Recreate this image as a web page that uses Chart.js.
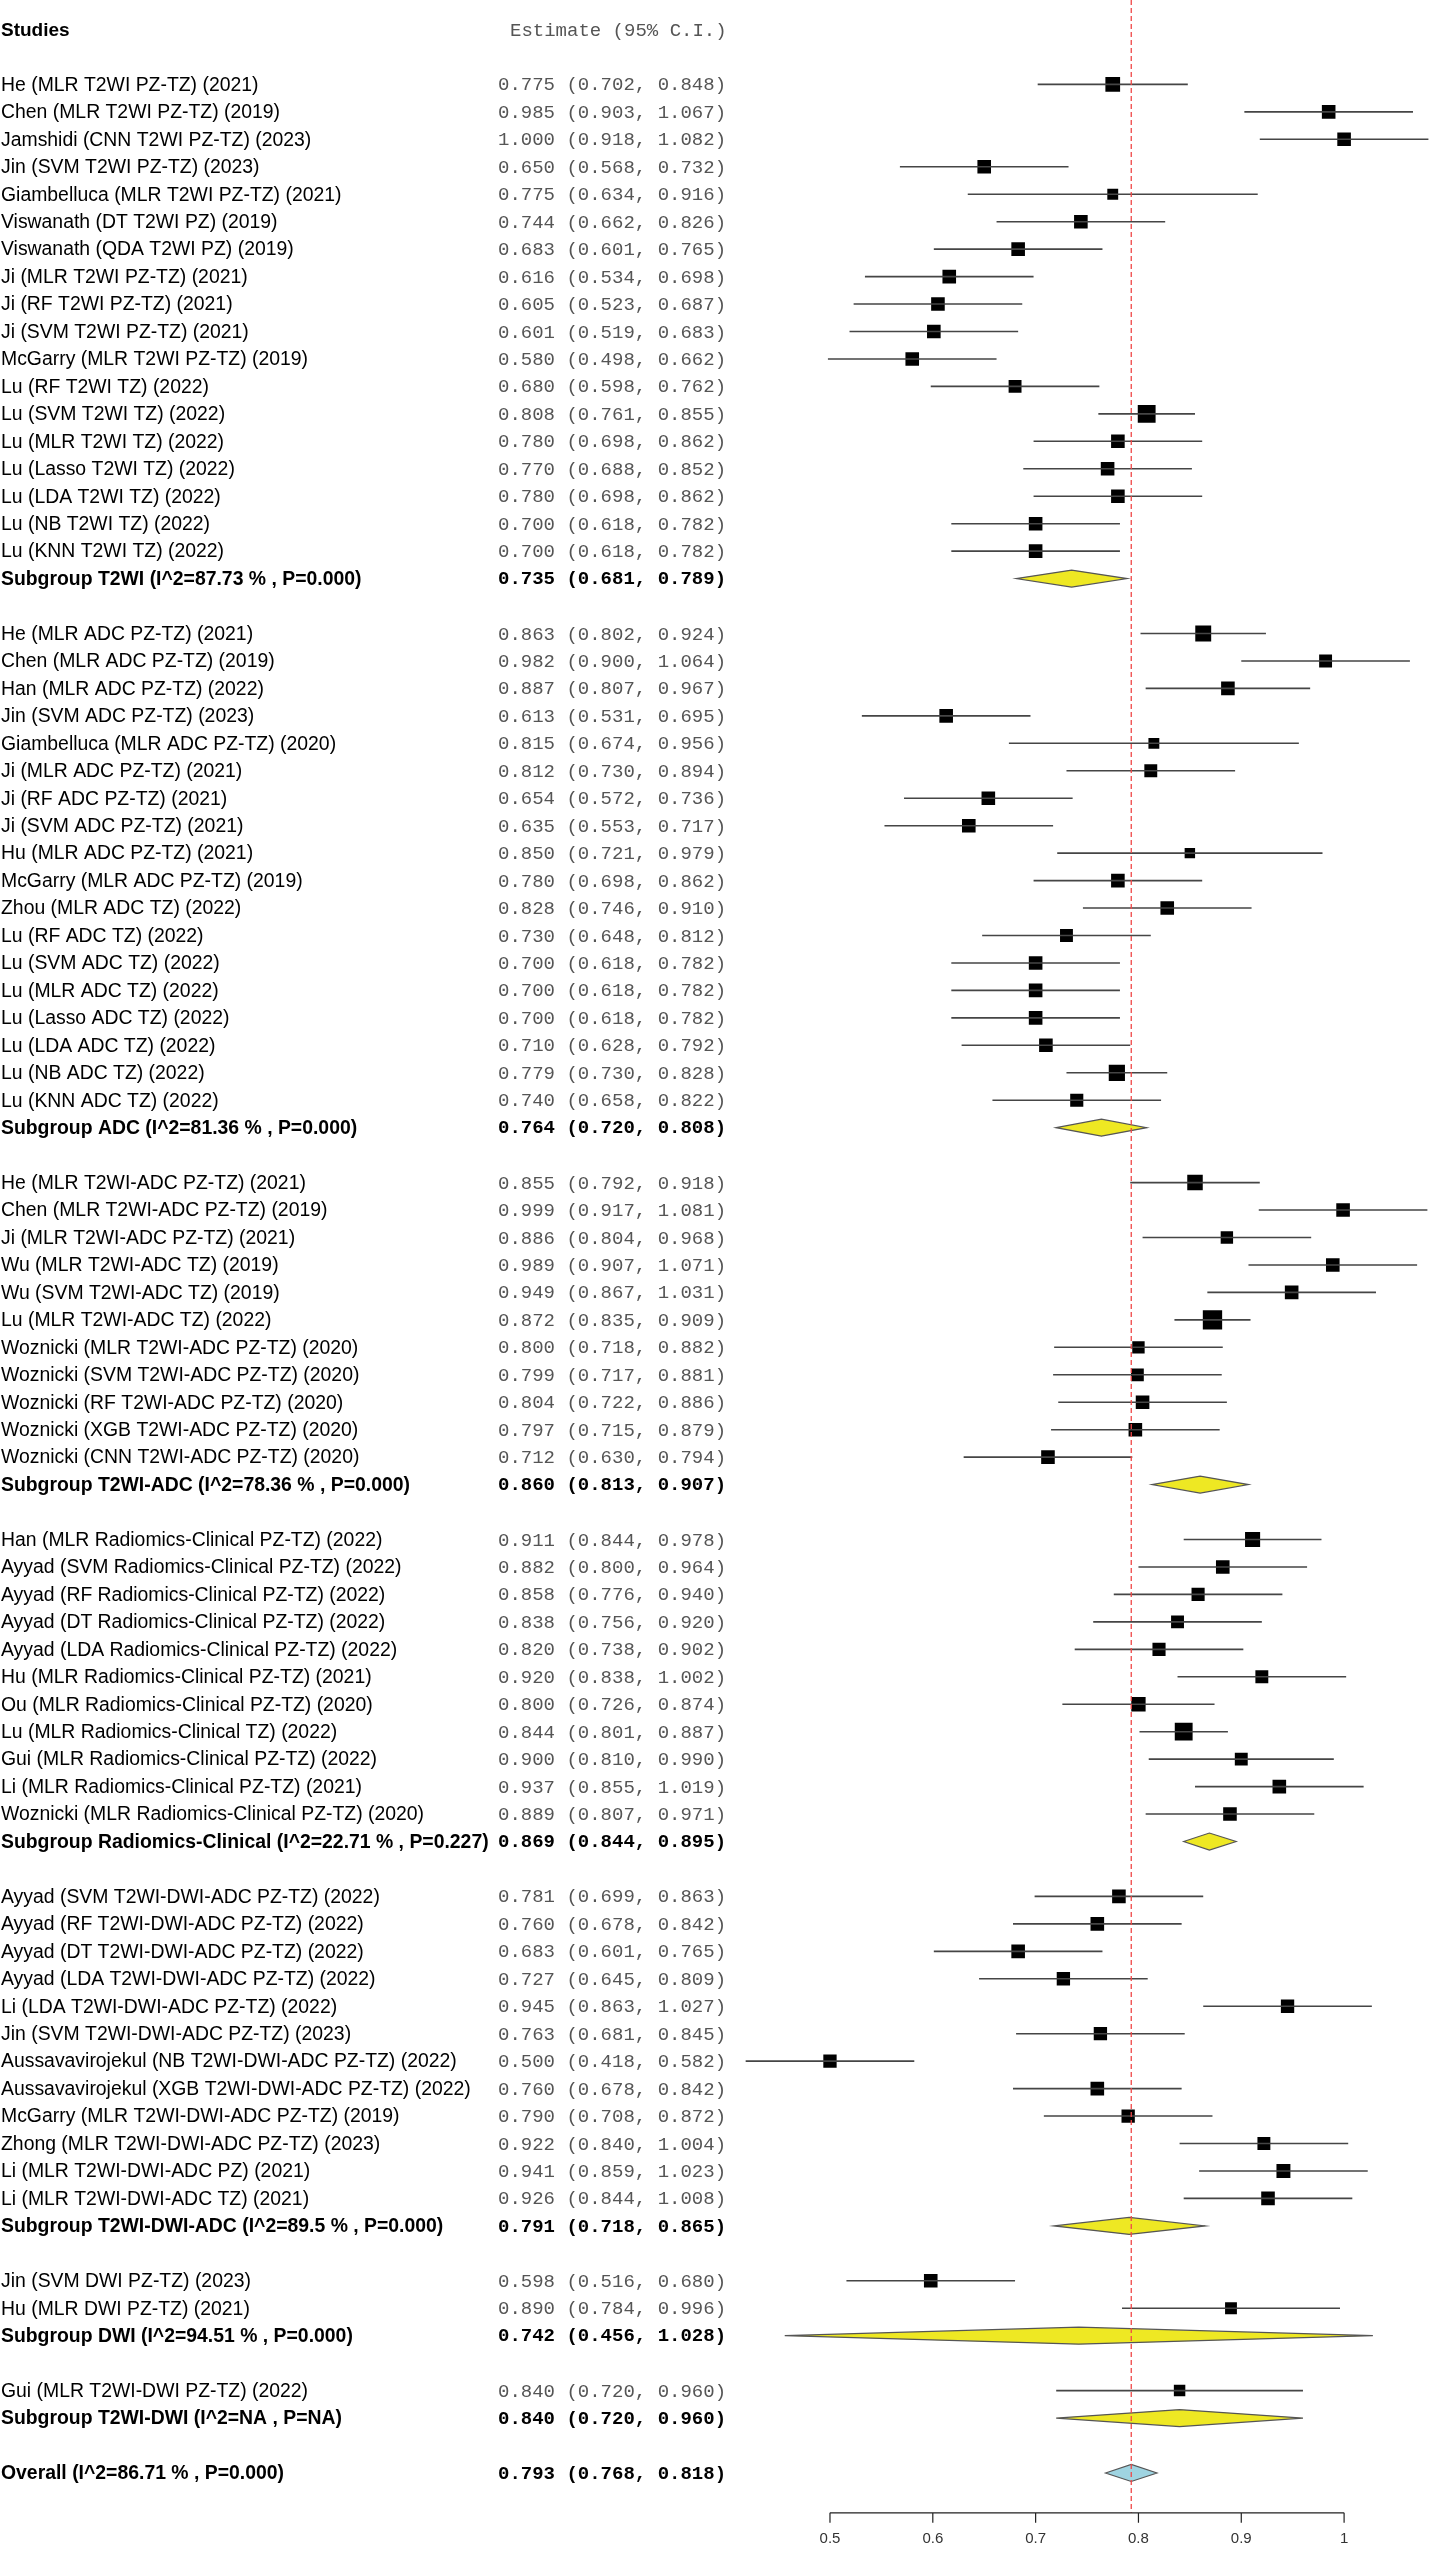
<!DOCTYPE html>
<html>
<head>
<meta charset="utf-8">
<title>Forest plot - subgrupos</title>
<script src="https://cdn.jsdelivr.net/npm/chart.js@4.4.1/dist/chart.umd.min.js"></script>
<style>
  html, body { margin: 0; padding: 0; background: #fff; }
  #wrap { width: 1450px; height: 2569px; }
</style>
</head>
<body>
<div id="wrap"><canvas id="forest" width="1450" height="2569"></canvas></div>
<script>
/* =========================
   DADOS
   ========================= */

/* Subgrupos (ordem do gráfico) */
const groupNames = ['T2WI', 'ADC', 'T2WI-ADC', 'Radiomics-Clinical', 'T2WI-DWI-ADC', 'DWI', 'T2WI-DWI'];
const groupI2 = ['87.73', '81.36', '78.36', '22.71', '89.5', '94.51', 'NA'];
const groupP = ['0.000', '0.000', '0.000', '0.227', '0.000', '0.000', 'NA'];
const groupEst = [0.735, 0.764, 0.860, 0.869, 0.791, 0.742, 0.840];
const groupLo = [0.681, 0.720, 0.813, 0.844, 0.718, 0.456, 0.720];
const groupHi = [0.789, 0.808, 0.907, 0.895, 0.865, 1.028, 0.960];

/* Estudos */
const studyNames = [
  'He (MLR T2WI PZ-TZ) (2021)', 'Chen (MLR T2WI PZ-TZ) (2019)', 'Jamshidi (CNN T2WI PZ-TZ) (2023)',
  'Jin (SVM T2WI PZ-TZ) (2023)', 'Giambelluca (MLR T2WI PZ-TZ) (2021)', 'Viswanath (DT T2WI PZ) (2019)',
  'Viswanath (QDA T2WI PZ) (2019)', 'Ji (MLR T2WI PZ-TZ) (2021)', 'Ji (RF T2WI PZ-TZ) (2021)',
  'Ji (SVM T2WI PZ-TZ) (2021)', 'McGarry (MLR T2WI PZ-TZ) (2019)', 'Lu (RF T2WI TZ) (2022)',
  'Lu (SVM T2WI TZ) (2022)', 'Lu (MLR T2WI TZ) (2022)', 'Lu (Lasso T2WI TZ) (2022)',
  'Lu (LDA T2WI TZ) (2022)', 'Lu (NB T2WI TZ) (2022)', 'Lu (KNN T2WI TZ) (2022)',

  'He (MLR ADC PZ-TZ) (2021)', 'Chen (MLR ADC PZ-TZ) (2019)', 'Han (MLR ADC PZ-TZ) (2022)',
  'Jin (SVM ADC PZ-TZ) (2023)', 'Giambelluca (MLR ADC PZ-TZ) (2020)', 'Ji (MLR ADC PZ-TZ) (2021)',
  'Ji (RF ADC PZ-TZ) (2021)', 'Ji (SVM ADC PZ-TZ) (2021)', 'Hu (MLR ADC PZ-TZ) (2021)',
  'McGarry (MLR ADC PZ-TZ) (2019)', 'Zhou (MLR ADC TZ) (2022)', 'Lu (RF ADC TZ) (2022)',
  'Lu (SVM ADC TZ) (2022)', 'Lu (MLR ADC TZ) (2022)', 'Lu (Lasso ADC TZ) (2022)',
  'Lu (LDA ADC TZ) (2022)', 'Lu (NB ADC TZ) (2022)', 'Lu (KNN ADC TZ) (2022)',

  'He (MLR T2WI-ADC PZ-TZ) (2021)', 'Chen (MLR T2WI-ADC PZ-TZ) (2019)', 'Ji (MLR T2WI-ADC PZ-TZ) (2021)',
  'Wu (MLR T2WI-ADC TZ) (2019)', 'Wu (SVM T2WI-ADC TZ) (2019)', 'Lu (MLR T2WI-ADC TZ) (2022)',
  'Woznicki (MLR T2WI-ADC PZ-TZ) (2020)', 'Woznicki (SVM T2WI-ADC PZ-TZ) (2020)',
  'Woznicki (RF T2WI-ADC PZ-TZ) (2020)', 'Woznicki (XGB T2WI-ADC PZ-TZ) (2020)',
  'Woznicki (CNN T2WI-ADC PZ-TZ) (2020)',

  'Han (MLR Radiomics-Clinical PZ-TZ) (2022)', 'Ayyad (SVM Radiomics-Clinical PZ-TZ) (2022)',
  'Ayyad (RF Radiomics-Clinical PZ-TZ) (2022)', 'Ayyad (DT Radiomics-Clinical PZ-TZ) (2022)',
  'Ayyad (LDA Radiomics-Clinical PZ-TZ) (2022)', 'Hu (MLR Radiomics-Clinical PZ-TZ) (2021)',
  'Ou (MLR Radiomics-Clinical PZ-TZ) (2020)', 'Lu (MLR Radiomics-Clinical TZ) (2022)',
  'Gui (MLR Radiomics-Clinical PZ-TZ) (2022)', 'Li (MLR Radiomics-Clinical PZ-TZ) (2021)',
  'Woznicki (MLR Radiomics-Clinical PZ-TZ) (2020)',

  'Ayyad (SVM T2WI-DWI-ADC PZ-TZ) (2022)', 'Ayyad (RF T2WI-DWI-ADC PZ-TZ) (2022)',
  'Ayyad (DT T2WI-DWI-ADC PZ-TZ) (2022)', 'Ayyad (LDA T2WI-DWI-ADC PZ-TZ) (2022)',
  'Li (LDA T2WI-DWI-ADC PZ-TZ) (2022)', 'Jin (SVM T2WI-DWI-ADC PZ-TZ) (2023)',
  'Aussavavirojekul (NB T2WI-DWI-ADC PZ-TZ) (2022)', 'Aussavavirojekul (XGB T2WI-DWI-ADC PZ-TZ) (2022)',
  'McGarry (MLR T2WI-DWI-ADC PZ-TZ) (2019)', 'Zhong (MLR T2WI-DWI-ADC PZ-TZ) (2023)',
  'Li (MLR T2WI-DWI-ADC PZ) (2021)', 'Li (MLR T2WI-DWI-ADC TZ) (2021)',

  'Jin (SVM DWI PZ-TZ) (2023)', 'Hu (MLR DWI PZ-TZ) (2021)',

  'Gui (MLR T2WI-DWI PZ-TZ) (2022)'
];
const studyGroup = [
  0,0,0,0,0,0,0,0,0,0,0,0,0,0,0,0,0,0,
  1,1,1,1,1,1,1,1,1,1,1,1,1,1,1,1,1,1,
  2,2,2,2,2,2,2,2,2,2,2,
  3,3,3,3,3,3,3,3,3,3,3,
  4,4,4,4,4,4,4,4,4,4,4,4,
  5,5,
  6
];
const studyEst = [
  0.775, 0.985, 1.000, 0.650, 0.775, 0.744, 0.683, 0.616, 0.605, 0.601, 0.580, 0.680, 0.808, 0.780, 0.770, 0.780, 0.700, 0.700,
  0.863, 0.982, 0.887, 0.613, 0.815, 0.812, 0.654, 0.635, 0.850, 0.780, 0.828, 0.730, 0.700, 0.700, 0.700, 0.710, 0.779, 0.740,
  0.855, 0.999, 0.886, 0.989, 0.949, 0.872, 0.800, 0.799, 0.804, 0.797, 0.712,
  0.911, 0.882, 0.858, 0.838, 0.820, 0.920, 0.800, 0.844, 0.900, 0.937, 0.889,
  0.781, 0.760, 0.683, 0.727, 0.945, 0.763, 0.500, 0.760, 0.790, 0.922, 0.941, 0.926,
  0.598, 0.890,
  0.840
];
const studyLo = [
  0.702, 0.903, 0.918, 0.568, 0.634, 0.662, 0.601, 0.534, 0.523, 0.519, 0.498, 0.598, 0.761, 0.698, 0.688, 0.698, 0.618, 0.618,
  0.802, 0.900, 0.807, 0.531, 0.674, 0.730, 0.572, 0.553, 0.721, 0.698, 0.746, 0.648, 0.618, 0.618, 0.618, 0.628, 0.730, 0.658,
  0.792, 0.917, 0.804, 0.907, 0.867, 0.835, 0.718, 0.717, 0.722, 0.715, 0.630,
  0.844, 0.800, 0.776, 0.756, 0.738, 0.838, 0.726, 0.801, 0.810, 0.855, 0.807,
  0.699, 0.678, 0.601, 0.645, 0.863, 0.681, 0.418, 0.678, 0.708, 0.840, 0.859, 0.844,
  0.516, 0.784,
  0.720
];
const studyHi = [
  0.848, 1.067, 1.082, 0.732, 0.916, 0.826, 0.765, 0.698, 0.687, 0.683, 0.662, 0.762, 0.855, 0.862, 0.852, 0.862, 0.782, 0.782,
  0.924, 1.064, 0.967, 0.695, 0.956, 0.894, 0.736, 0.717, 0.979, 0.862, 0.910, 0.812, 0.782, 0.782, 0.782, 0.792, 0.828, 0.822,
  0.918, 1.081, 0.968, 1.071, 1.031, 0.909, 0.882, 0.881, 0.886, 0.879, 0.794,
  0.978, 0.964, 0.940, 0.920, 0.902, 1.002, 0.874, 0.887, 0.990, 1.019, 0.971,
  0.863, 0.842, 0.765, 0.809, 1.027, 0.845, 0.582, 0.842, 0.872, 1.004, 1.023, 1.008,
  0.680, 0.996,
  0.960
];
/* Peso relativo de cada estudo (lido pelo tamanho do quadrado) */
const studyWeight = [
  1.17, 1.0, 1.0, 1.0, 0.64, 1.0, 1.0, 1.0, 1.0, 1.0, 1.0, 0.9, 1.72, 1.0, 1.0, 1.0, 1.0, 1.0,
  1.37, 0.9, 1.0, 1.0, 0.64, 0.9, 1.0, 1.0, 0.59, 1.0, 1.0, 0.9, 1.0, 1.0, 1.0, 1.0, 1.42, 0.93,
  1.30, 1.0, 0.83, 1.0, 1.0, 2.02, 0.83, 0.88, 1.0, 1.0, 1.0,
  1.23, 1.0, 0.93, 0.9, 0.93, 0.9, 1.11, 1.72, 0.9, 1.0, 1.0,
  1.0, 1.0, 1.0, 0.96, 0.96, 0.96, 0.96, 1.0, 0.96, 0.9, 1.05, 1.0,
  1.0, 0.76,
  0.71
];

/* Resultado global */
const overallEst = 0.793;
const overallLo = 0.768;
const overallHi = 0.818;
const overallI2 = '86.71';
const overallP = '0.000';

/* Eixo X */
const axisTicks = [0.5, 0.6, 0.7, 0.8, 0.9, 1.0];
const axisTickLabels = ['0.5', '0.6', '0.7', '0.8', '0.9', '1'];

/* =========================
   MONTAGEM DAS LINHAS
   ========================= */
const fmt = (e, l, h) => e.toFixed(3) + ' (' + l.toFixed(3) + ', ' + h.toFixed(3) + ')';

const rows = [];
let r = 0;
groupNames.forEach((g, gi) => {
  studyNames.forEach((name, i) => {
    if (studyGroup[i] !== gi) return;
    rows.push({ kind: 'study', label: name, text: fmt(studyEst[i], studyLo[i], studyHi[i]),
      est: studyEst[i], lo: studyLo[i], hi: studyHi[i], w: studyWeight[i], row: r });
    r++;
  });
  const i2 = groupI2[gi] === 'NA' ? 'NA' : groupI2[gi] + ' %';
  rows.push({ kind: 'sub', label: 'Subgroup ' + g + ' (I^2=' + i2 + ' , P=' + groupP[gi] + ')',
    text: fmt(groupEst[gi], groupLo[gi], groupHi[gi]),
    est: groupEst[gi], lo: groupLo[gi], hi: groupHi[gi], row: r });
  r += 2; // linha em branco entre subgrupos
});
rows.push({ kind: 'overall', label: 'Overall (I^2=' + overallI2 + ' % , P=' + overallP + ')',
  text: fmt(overallEst, overallLo, overallHi), est: overallEst, lo: overallLo, hi: overallHi, row: r });

const headerRow = -2;
const axisRow = r + 1.45;

const studyRows = rows.filter(d => d.kind === 'study');

/* CI: segmentos separados por pontos nulos */
const ciData = [];
studyRows.forEach(d => {
  ciData.push({ x: d.lo, y: d.row }, { x: d.hi, y: d.row }, { x: null, y: null });
});
const boxData = studyRows.map(d => ({ x: d.est, y: d.row }));
const boxRadius = studyRows.map(d => 13.6 * Math.sqrt(d.w) / 2 / Math.SQRT1_2);

/* =========================
   PLUGIN: textos, losangos, linha de referência e eixo
   ========================= */
const SANS = "'Liberation Sans', Arial, sans-serif";
const MONO = "'Liberation Mono', 'Courier New', monospace";

const forestDecor = {
  id: 'forestDecor',
  afterDatasetsDraw(chart) {
    const ctx = chart.ctx;
    const xs = chart.scales.x;
    const ys = chart.scales.y;
    ctx.save();

    // losangos dos subgrupos e global
    rows.filter(d => d.kind !== 'study').forEach(d => {
      const y = ys.getPixelForValue(d.row);
      const h = 8.5;
      ctx.beginPath();
      ctx.moveTo(xs.getPixelForValue(d.lo), y);
      ctx.lineTo(xs.getPixelForValue(d.est), y - h);
      ctx.lineTo(xs.getPixelForValue(d.hi), y);
      ctx.lineTo(xs.getPixelForValue(d.est), y + h);
      ctx.closePath();
      ctx.fillStyle = d.kind === 'overall' ? '#9fd4e1' : '#eee823';
      ctx.fill();
      ctx.strokeStyle = '#555';
      ctx.lineWidth = 1.2;
      ctx.stroke();
    });

    // linha tracejada no efeito global
    const axisY = ys.getPixelForValue(axisRow);
    const xRef = xs.getPixelForValue(overallEst);
    ctx.beginPath();
    ctx.setLineDash([5, 3]);
    ctx.strokeStyle = '#f04848';
    ctx.lineWidth = 1.3;
    ctx.moveTo(xRef, 0);
    ctx.lineTo(xRef, axisY);
    ctx.stroke();
    ctx.setLineDash([]);

    // eixo X
    ctx.strokeStyle = '#222';
    ctx.lineWidth = 1.2;
    ctx.beginPath();
    ctx.moveTo(xs.getPixelForValue(axisTicks[0]), axisY);
    ctx.lineTo(xs.getPixelForValue(axisTicks[axisTicks.length - 1]), axisY);
    axisTicks.forEach(t => {
      const x = xs.getPixelForValue(t);
      ctx.moveTo(x, axisY);
      ctx.lineTo(x, axisY + 10);
    });
    ctx.stroke();
    ctx.fillStyle = '#333';
    ctx.font = '15px ' + SANS;
    ctx.textAlign = 'center';
    ctx.textBaseline = 'middle';
    axisTicks.forEach((t, i) => ctx.fillText(axisTickLabels[i], xs.getPixelForValue(t), axisY + 26));

    // cabeçalho
    const hy = ys.getPixelForValue(headerRow) + 1;
    ctx.textAlign = 'left';
    ctx.fillStyle = '#000';
    ctx.font = 'bold 19px ' + SANS;
    ctx.fillText('Studies', 1, hy);
    ctx.fillStyle = '#555';
    ctx.font = '19px ' + MONO;
    ctx.fillText('Estimate (95% C.I.)', 510, hy);

    // colunas de texto
    rows.forEach(d => {
      const y = ys.getPixelForValue(d.row) + 1;
      const bold = d.kind !== 'study';
      ctx.fillStyle = '#000';
      ctx.font = (bold ? 'bold ' : '') + '19.4px ' + SANS;
      ctx.fillText(d.label, 1, y);
      ctx.fillStyle = bold ? '#000' : '#555';
      ctx.font = (bold ? 'bold ' : '') + '19px ' + MONO;
      ctx.fillText(d.text, 498, y);
    });

    ctx.restore();
  }
};

/* =========================
   GRÁFICO
   ========================= */
const ctx = document.getElementById('forest').getContext('2d');

new Chart(ctx, {
  type: 'scatter',
  data: {
    datasets: [
      {
        label: 'CI',
        data: ciData,
        showLine: true,
        spanGaps: false,
        borderColor: '#454545',
        borderWidth: 1.6,
        pointRadius: 0,
        pointHoverRadius: 0
      },
      {
        label: 'Estimate',
        data: boxData,
        pointStyle: 'rect',
        pointRadius: boxRadius,
        pointHoverRadius: boxRadius,
        backgroundColor: '#000',
        borderColor: '#000',
        borderWidth: 0
      }
    ]
  },
  options: {
    responsive: false,
    animation: false,
    events: [],
    layout: { padding: 0 },
    scales: {
      // 0.5 -> x=832px, 1.0 -> x=1356px
      x: { type: 'linear', min: -0.29389, max: 1.0897, display: false },
      // linha 0 -> y=71.5px, 27.75px por linha
      y: { type: 'linear', min: -2.5766, max: 90.0, reverse: true, display: false }
    },
    plugins: {
      legend: { display: false },
      tooltip: { enabled: false }
    }
  },
  plugins: [forestDecor]
});
</script>
</body>
</html>
